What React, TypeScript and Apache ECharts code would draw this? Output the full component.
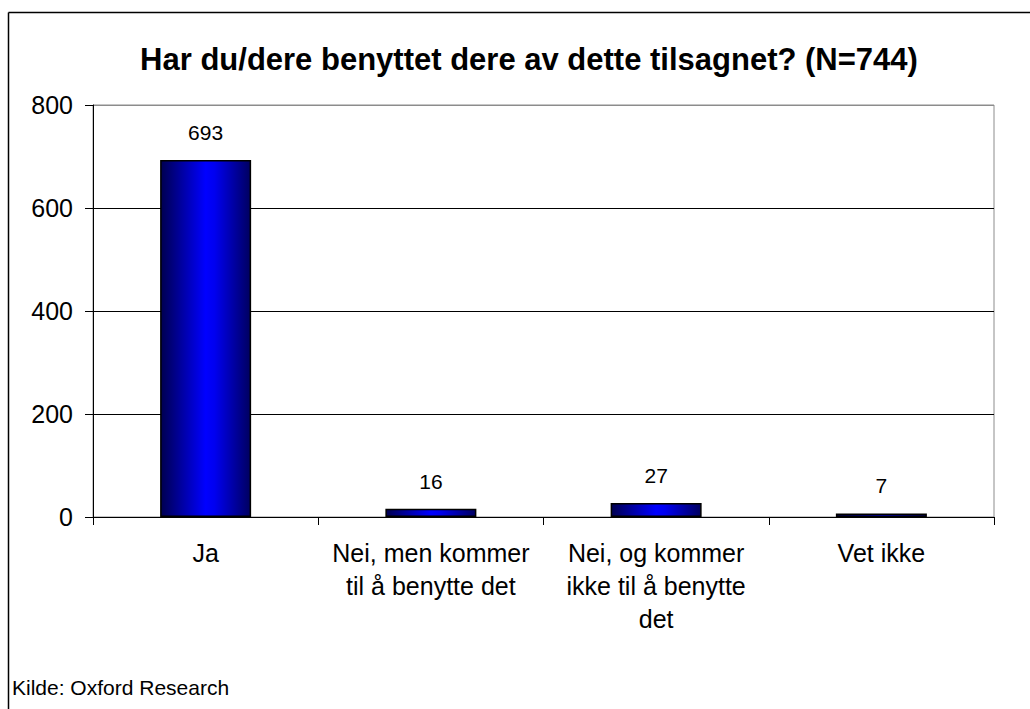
import React, { useEffect, useRef } from "react";
import * as echarts from "echarts";

const categories = [
  "Ja",
  "Nei, men kommer\ntil å benytte det",
  "Nei, og kommer\nikke til å benytte\ndet",
  "Vet ikke",
];
const values = [693, 16, 27, 7];
const yTicks = { min: 0, max: 800, interval: 200 };
const titleText = "Har du/dere benyttet dere av dette tilsagnet? (N=744)";
const sourceText = "Kilde: Oxford Research";

const FONT = "'Liberation Sans', Arial, sans-serif";

export default function App() {
  const ref = useRef<HTMLDivElement>(null);
  useEffect(() => {
    document.body.style.margin = "0";
    const chart = echarts.init(ref.current!, undefined, { renderer: "svg" });
    chart.setOption({
      animation: false,
      backgroundColor: "#ffffff",
      title: {
        text: titleText,
        left: 524,
        top: 39,
        textAlign: "center",
        textStyle: { fontFamily: FONT, fontSize: 31, fontWeight: "bold", color: "#000" },
      },
      grid: {
        left: 93,
        right: 36,
        top: 105,
        bottom: 192,
        show: true,
        borderColor: "#8c8c8c",
        borderWidth: 1,
        backgroundColor: "transparent",
      },
      xAxis: {
        type: "category",
        data: categories,
        axisLine: { show: true, lineStyle: { color: "#000", width: 1 } },
        axisTick: { show: true, length: 8, alignWithLabel: false, lineStyle: { color: "#000" } },
        axisLabel: {
          interval: 0,
          fontFamily: FONT,
          fontSize: 25,
          lineHeight: 33,
          color: "#000",
          margin: 19,
        },
        splitLine: { show: false },
      },
      yAxis: {
        type: "value",
        min: yTicks.min,
        max: yTicks.max,
        interval: yTicks.interval,
        axisLine: { show: true, lineStyle: { color: "#000", width: 1 } },
        axisTick: { show: true, length: 8, lineStyle: { color: "#000" } },
        axisLabel: { fontFamily: FONT, fontSize: 25, color: "#000", margin: 20 },
        splitLine: {
          show: true,
          lineStyle: { color: ["#000", "#000", "#000", "#000", "#8c8c8c"], width: 1 },
        },
      },
      series: [
        {
          type: "bar",
          data: values,
          barWidth: 91,
          itemStyle: {
            borderColor: "#000",
            borderWidth: 1.5,
            color: {
              type: "linear",
              x: 0,
              y: 0,
              x2: 1,
              y2: 0,
              colorStops: [
                { offset: 0, color: "#000050" },
                { offset: 0.5, color: "#0000ff" },
                { offset: 0.6, color: "#0000f0" },
                { offset: 1, color: "#000060" },
              ],
            },
          },
          label: {
            show: true,
            position: "top",
            distance: 17,
            fontFamily: FONT,
            fontSize: 21,
            color: "#000",
          },
        },
      ],
      graphic: [
        {
          type: "line",
          shape: { x1: 8.5, y1: 12.5, x2: 1030, y2: 12.5 },
          style: { stroke: "#000", lineWidth: 1.5 },
        },
        {
          type: "line",
          shape: { x1: 8.5, y1: 12.5, x2: 8.5, y2: 709 },
          style: { stroke: "#000", lineWidth: 1.5 },
        },
        {
          type: "text",
          left: 12,
          top: 677,
          style: { text: sourceText, fontFamily: FONT, fontSize: 21, fill: "#000" },
        },
      ],
    });
    return () => chart.dispose();
  }, []);
  return <div ref={ref} style={{ width: 1030, height: 709 }} />;
}
